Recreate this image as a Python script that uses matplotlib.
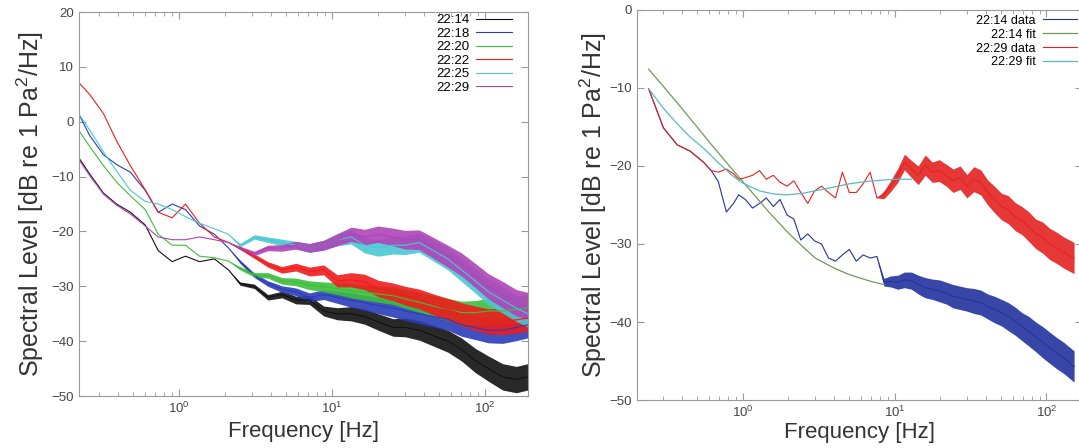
import numpy as np
import matplotlib
matplotlib.use("Agg")
from matplotlib import pyplot as plt

plt.rcParams['font.family'] = ['Liberation Sans', 'DejaVu Sans']
plt.rcParams['mathtext.fontset'] = 'custom'
plt.rcParams['mathtext.rm'] = 'Liberation Sans'

# ---- left panel: spectra of six recordings
f_left = [0.22, 0.26, 0.32, 0.39, 0.48, 0.6, 0.73, 0.9, 1.1, 1.36, 1.7, 2.1,
          2.5, 3.1, 3.8, 4.7, 5.8, 7.1, 8.8, 10.8, 13.3, 16.3, 20, 25, 30, 37,
          46, 57, 70, 86, 105, 130, 160, 190]
lv_2214 = [-6.5, -9.5, -13, -15, -16.5, -18.8, -23.5, -25.5, -24.5, -25.5, -25, -27,
           -29.5, -30, -32, -31.5, -32.5, -32.5, -34.5, -35, -35, -35.5, -36.5, -37.5,
           -37.5, -38, -39, -40, -41.5, -43.5, -45, -46.5, -47, -46.5]
lv_2218 = [1.5, -2.5, -6, -7.8, -9.2, -12.5, -16.5, -15, -16, -19, -20.5, -23,
           -25.5, -28, -29.5, -30.5, -31, -32, -31.5, -32, -32.5, -33, -33.5, -34,
           -34.5, -35, -35.5, -36, -37, -37.5, -38, -38, -37.5, -37]
lv_2220 = [-1.5, -4.5, -8, -11, -13.5, -16, -20.5, -22.5, -22.5, -24.5, -24.8, -25.4,
           -26.7, -27.9, -28, -29, -29.2, -29.8, -30.1, -30.4, -30.8, -31.1, -31.4, -31.7,
           -32.3, -32.9, -33.6, -34.2, -34.8, -34.8, -34.5, -34.5, -34.2, -33.9]
lv_2222 = [7.2, 5, 1.5, -3.5, -8, -12.4, -16.5, -17.5, -15, -18.5, -21, -22,
           -23, -24.5, -26, -27, -26.5, -27.3, -27, -29, -28.8, -29.2, -30.4, -31,
           -31.7, -32.3, -33.3, -34.2, -35.1, -35.8, -36.4, -36.4, -36.1, -35.8]
lv_2225 = [1.5, -1.5, -5.5, -9, -12.5, -14.5, -15, -16, -17.3, -18.5, -19.5, -20.5,
           -22.5, -21, -21.5, -22, -22.5, -23, -22.5, -21.5, -21, -22.5, -23, -22.5,
           -22.5, -22, -23.5, -25, -27, -29, -31, -32.5, -34, -35]
lv_2229 = [-6.8, -9.8, -13.2, -15.2, -16.8, -19, -21, -21.5, -21.5, -21, -21.5, -22,
           -23, -24, -23, -23, -22.5, -23, -22.5, -21.5, -20.5, -21, -20.5, -21,
           -21.5, -21.5, -23, -24.5, -26, -28, -30, -31.5, -33, -33.5]
# half width of the noisy band (dB)
band_left = [0, 0, 0, 0, 0, 0, 0, 0, 0, 0, 0, 0,
             0.3, 0.4, 0.5, 0.6, 0.7, 0.8, 0.9, 1.1, 1.3, 1.4, 1.5, 1.6,
             1.7, 1.8, 1.9, 2.0, 2.1, 2.2, 2.3, 2.4, 2.4, 2.4]
labels_left = ['22:14', '22:18', '22:20', '22:22', '22:25', '22:29']
colors_left = ['#111111', '#2a3db8', '#3cbf3c', '#ee1c1c', '#48c8d4', '#b044b8']

# ---- right panel: two recordings with fitted curves
f_right = [0.24, 0.3, 0.37, 0.45, 0.55, 0.62, 0.69, 0.78, 0.87, 0.94, 1.04, 1.16,
           1.29, 1.43, 1.59, 1.76, 1.96, 2.17, 2.41, 2.68, 2.97, 3.3, 3.67, 4.08,
           4.53, 5.03, 5.59, 6.2, 6.9, 7.65, 8.5, 9.4, 10.5, 11.6, 12.9, 14.3,
           15.9, 17.7, 19.7, 21.9, 24.3, 27, 29.9, 33.2, 36.9, 41, 45.5, 50.5,
           56, 62.3, 69, 76.7, 85, 94.6, 105, 117, 130, 152]
data_2214 = [-10.1, -15.1, -17.3, -18.1, -19.5, -20.6, -22, -25.9, -24.8, -23.7, -24.3, -25.4,
             -24.8, -24.1, -25.2, -24.3, -26.3, -26.8, -29.5, -28.7, -29.6, -30, -31.8, -32.2,
             -31.4, -30.7, -32.2, -31.4, -31.8, -31.6, -34.9, -34.8, -34.9, -34.6, -34.7, -35.2,
             -35.6, -35.8, -36, -36.3, -36.7, -36.9, -37.1, -37.3, -37.5, -38, -38.4, -38.8,
             -39.3, -39.9, -40.6, -41.2, -41.9, -42.6, -43.3, -44, -44.6, -45.7]
data_2229 = [-10.1, -15.1, -17.3, -18.1, -19.5, -20.6, -20.8, -20.4, -21, -21.7, -21.5, -21.2,
             -20.6, -21.7, -21.2, -22.1, -22.6, -21.9, -23.4, -24.8, -23.2, -22.6, -23.4, -24.1,
             -20.8, -23.4, -23.4, -22.3, -20.8, -24.1, -23.7, -22.6, -21.2, -19.5, -20.4, -21.2,
             -19.9, -20.8, -20.6, -21.2, -21.9, -21.5, -22.6, -21.7, -22.1, -23.4, -24.3, -25.2,
             -25.6, -26.5, -27, -27.8, -28.7, -29.2, -30, -30.5, -31.1, -31.8]
band_right = [0, 0, 0, 0, 0, 0, 0, 0, 0, 0, 0, 0,
              0, 0, 0, 0, 0, 0, 0, 0, 0, 0, 0, 0,
              0, 0, 0, 0, 0, 0, 0.5, 0.7, 0.9, 1.0, 1.1, 1.2,
              1.3, 1.3, 1.4, 1.4, 1.5, 1.5, 1.5, 1.6, 1.6, 1.6, 1.7, 1.7,
              1.8, 1.8, 1.8, 1.9, 1.9, 2.0, 2.0, 2.0, 2.0, 2.0]
f_fit14 = [0.24, 0.3, 0.4, 0.5, 0.6, 0.8, 1.0, 1.2, 1.5, 2.0, 2.5, 3.0, 4.0, 5.0, 6.0, 7.0, 8.5]
fit_2214 = [-7.6, -9.8, -12.7, -15.0, -16.9, -19.8, -22.0, -23.8, -26.0, -28.6, -30.4, -31.8,
            -33.1, -33.9, -34.4, -34.8, -35.2]
f_fit29 = [0.24, 0.3, 0.37, 0.45, 0.55, 0.7, 0.85, 1.0, 1.29, 1.6, 1.96, 2.5, 2.97, 4.0,
           5.0, 6.5, 8.5, 10.5, 12.9]
fit_2229 = [-10.1, -12.6, -14.6, -16.3, -17.7, -19.7, -21.2, -22.2, -23.2, -23.6, -23.7, -23.5,
            -23.2, -22.7, -22.3, -22.0, -21.8, -21.7, -21.7]

fig = plt.figure(figsize=(10.79, 4.48), dpi=100)
axL = fig.add_axes([0.0728, 0.116, 0.417, 0.857])
axR = fig.add_axes([0.590, 0.107, 0.413, 0.871])


def spectrum(ax, f, lv, band, color, label):
    lv = np.array(lv)
    band = np.array(band)
    ax.fill_between(f, lv - band, lv + band, color=color, lw=0, alpha=0.9)
    ax.plot(f, lv, color=color, lw=0.8, label=label)


def style(ax, xlim, ylim):
    ax.set_xscale('log')
    ax.set_xlim(*xlim)
    ax.set_ylim(*ylim)
    ax.set_yticks(np.arange(ylim[0], ylim[1] + 1, 10))
    for s in ax.spines.values():
        s.set_color('#999999')
        s.set_linewidth(0.8)
    ax.tick_params(which='both', direction='in', top=True, right=True,
                   colors='#999999', labelcolor='#444444', labelsize=9.5)
    ax.tick_params(which='major', length=5)
    ax.tick_params(which='minor', length=3)
    ax.set_xlabel('Frequency [Hz]', fontsize=16, color='#333333')
    ax.set_ylabel('Spectral Level [dB re 1 Pa$^2$/Hz]', fontsize=18, color='#333333')


for lv, c, lab in zip([lv_2214, lv_2218, lv_2220, lv_2222, lv_2225, lv_2229],
                      colors_left, labels_left):
    spectrum(axL, f_left, lv, band_left, c, lab)
style(axL, (0.22, 192), (-50, 20))
axL.xaxis.set_label_coords(0.5, -0.066)
axL.yaxis.set_label_coords(-0.073, 0.5)
axL.legend(loc='upper right', bbox_to_anchor=(0.963, 0.995), markerfirst=False,
           frameon=False, fontsize=9.5, handlelength=2.7, labelspacing=0.1,
           handletextpad=0.5, borderaxespad=0, borderpad=0)

spectrum(axR, f_right, data_2214, band_right, '#22339e', '22:14 data')
axR.plot(f_fit14, fit_2214, color='#6f9a55', lw=0.9, label='22:14 fit')
spectrum(axR, f_right, data_2229, band_right, '#e52222', '22:29 data')
axR.plot(f_fit29, fit_2229, color='#5ab8c6', lw=0.9, label='22:29 fit')
style(axR, (0.2, 172), (-50, 0))
axR.xaxis.set_label_coords(0.5, -0.056)
axR.yaxis.set_label_coords(-0.063, 0.5)
axR.legend(loc='upper right', markerfirst=False, frameon=False, fontsize=9,
           handlelength=2.7, labelspacing=0.15, handletextpad=0.6,
           borderaxespad=0.3, borderpad=0.1)

fig.savefig('out.png', dpi=100)
